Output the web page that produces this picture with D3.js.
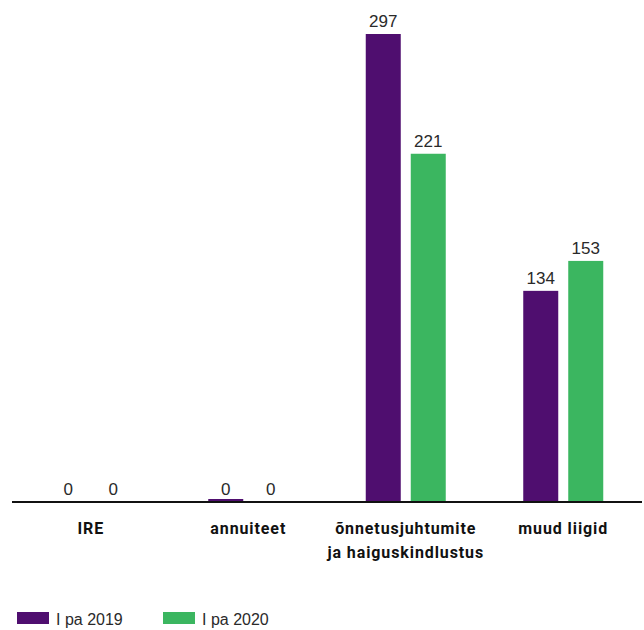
<!DOCTYPE html>
<html><head><meta charset="utf-8">
<script src="https://cdn.jsdelivr.net/npm/d3@7/dist/d3.min.js"></script>
<style>body{margin:0;background:#fff}</style>
</head><body>
<svg id="chart" width="644" height="630"></svg>
<script>
const categories = [["IRE"], ["annuiteet"], ["õnnetusjuhtumite", "ja haiguskindlustus"], ["muud liigid"]];
const series = ["I pa 2019", "I pa 2020"];
const values2019 = [0, 0.4, 297, 134];
const values2020 = [0, 0, 221, 153];
const colors = ["#4f0e6f", "#3bb660"];

const svg = d3.select("#chart");
const baseY = 502;
const x0 = d3.scaleBand().domain(d3.range(categories.length)).range([12, 642]).paddingInner(1 - 80/157.5).paddingOuter((1 - 80/157.5)/2);
const x1 = d3.scaleBand().domain(d3.range(series.length)).range([0, x0.bandwidth()]).paddingInner(10/45).paddingOuter(0);
const y = d3.scaleLinear().domain([0, 297]).range([baseY, 34]);
const fmt = d3.format(".0f");
const data = [values2019, values2020];

const g = svg.append("g");
categories.forEach((c, i) => {
  series.forEach((s, j) => {
    const v = data[j][i];
    const h = v > 0 ? Math.max(3, baseY - y(v)) : 0;
    g.append("rect").attr("x", x0(i) + x1(j)).attr("y", baseY - h).attr("width", x1.bandwidth()).attr("height", h).attr("fill", colors[j]);
    g.append("text").attr("x", x0(i) + x1(j) + x1.bandwidth()/2).attr("y", (v > 0 && baseY - y(v) > 3 ? y(v) : baseY) - 7)
      .attr("text-anchor", "middle").attr("font-family", "'Liberation Sans', Arial, sans-serif").attr("font-size", 17).attr("fill", "#2a2a2a").text(fmt(v));
  });
});

// axis
const xAxis = d3.axisBottom(x0).tickSize(0).tickFormat("");
const ax = svg.append("g").attr("transform", `translate(0,${baseY})`).call(xAxis);
ax.select(".domain").attr("stroke", "#111").attr("stroke-width", 2).attr("d", "M12,0H642");
categories.forEach((c, i) => {
  const t = svg.append("text").attr("x", x0(i) + x0.bandwidth()/2).attr("y", 534).attr("text-anchor", "middle")
    .attr("font-family", "Roboto, sans-serif").attr("font-weight", "bold").attr("font-size", 16).attr("letter-spacing", 0.9).attr("fill", "#111");
  c.forEach((line, k) => t.append("tspan").attr("x", x0(i) + x0.bandwidth()/2).attr("dy", k === 0 ? 0 : 23.5).text(line));
});

// legend
const legX = [17, 163];
series.forEach((s, j) => {
  svg.append("rect").attr("x", legX[j]).attr("y", 612).attr("width", 32).attr("height", 12).attr("fill", colors[j]);
  svg.append("text").attr("x", legX[j] + 39).attr("y", 625).attr("font-family", "'Liberation Sans', Arial, sans-serif").attr("font-size", 16).attr("fill", "#2a2a2a").text(s);
});
</script>
</body></html>
